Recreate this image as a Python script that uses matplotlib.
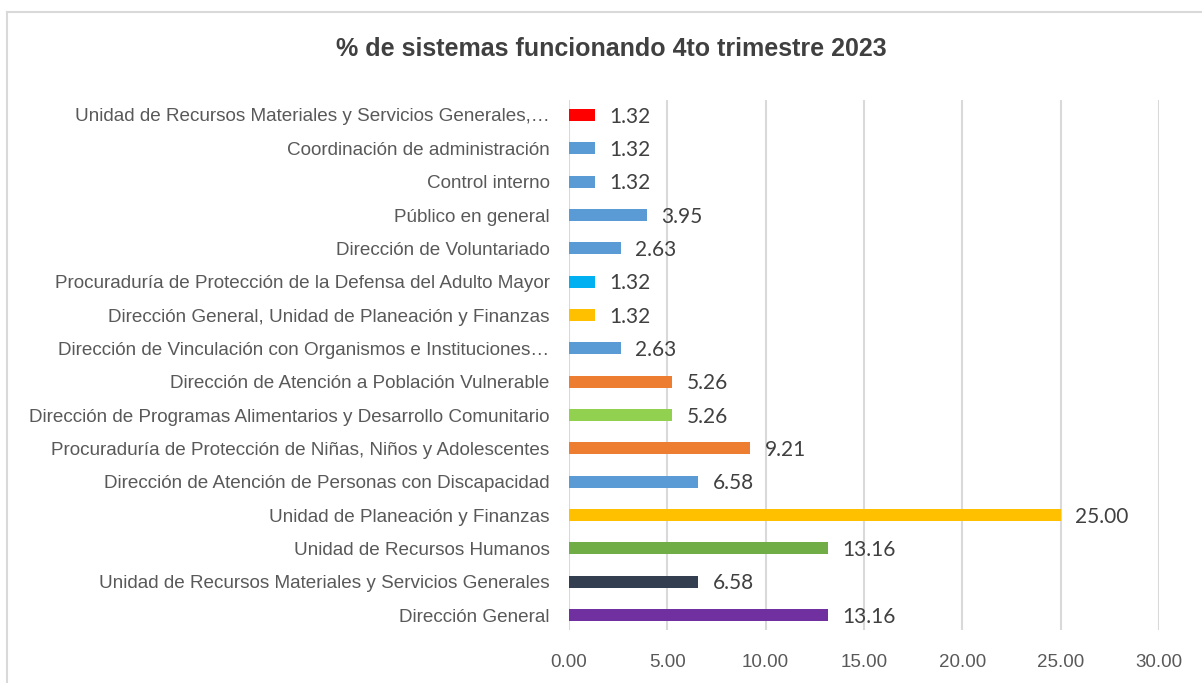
import numpy as np
import matplotlib.pyplot as plt
from matplotlib.lines import Line2D

# data, bottom to top
categorias = [
    'Dirección General',
    'Unidad de Recursos Materiales y Servicios Generales',
    'Unidad de Recursos Humanos',
    'Unidad de Planeación y Finanzas',
    'Dirección de Atención de Personas con Discapacidad',
    'Procuraduría de Protección de Niñas, Niños y Adolescentes',
    'Dirección de Programas Alimentarios y Desarrollo Comunitario',
    'Dirección de Atención a Población Vulnerable',
    'Dirección de Vinculación con Organismos e Instituciones…',
    'Dirección General, Unidad de Planeación y Finanzas',
    'Procuraduría de Protección de la Defensa del Adulto Mayor',
    'Dirección de Voluntariado',
    'Público en general',
    'Control interno',
    'Coordinación de administración',
    'Unidad de Recursos Materiales y Servicios Generales,…',
]
porcentajes = [13.16, 6.58, 13.16, 25.00, 6.58, 9.21, 5.26, 5.26,
               2.63, 1.32, 1.32, 2.63, 3.95, 1.32, 1.32, 1.32]
colores = ['#7030A0', '#333F50', '#70AD47', '#FFC000', '#5B9BD5', '#ED7D31',
           '#92D050', '#ED7D31', '#5B9BD5', '#FFC000', '#00B0F0', '#5B9BD5',
           '#5B9BD5', '#5B9BD5', '#5B9BD5', '#FF0000']
ticks_x = [0, 5, 10, 15, 20, 25, 30]

narrow = ['Liberation Sans Narrow', 'Liberation Sans', 'DejaVu Sans']
gris = '#595959'

fig = plt.figure(figsize=(12.02, 6.83), dpi=100)
ax = fig.add_axes([569 / 1202, 1 - 630 / 683, 590 / 1202, 530 / 683])

y = np.arange(len(categorias))
ax.barh(y, porcentajes, height=0.36, color=colores, zorder=3)

for yi, v in zip(y, porcentajes):
    ax.text(v + 0.75, yi - 0.05, f'{v:.2f}', va='center', ha='left',
            fontsize=15, color='#404040', family=['Lato', 'DejaVu Sans'], zorder=4)

ax.set_xlim(0, 30)
ax.set_ylim(-0.45, len(categorias) - 0.55)
ax.set_xticks(ticks_x)
ax.set_xticklabels([f'{t:.2f}' for t in ticks_x], family=narrow, fontsize=13.5, color=gris)
ax.set_yticks(y)
ax.set_yticklabels(categorias, family=narrow, fontsize=13.6, color=gris)
ax.tick_params(axis='x', length=0, pad=17)
ax.tick_params(axis='y', length=0, pad=14)
ax.grid(axis='x', color='#D9D9D9', linewidth=1.5, zorder=0)
for s in ax.spines.values():
    s.set_visible(False)

fig.text(611 / 1202, 1 - 49 / 683, '% de sistemas funcionando 4to trimestre 2023',
         ha='center', va='center', fontsize=18, fontweight='bold', color='#404040',
         family=narrow)

# chart border (cut at right and bottom)
fig.add_artist(Line2D([7 / 1202, 7 / 1202], [0, 1 - 12 / 683],
                      transform=fig.transFigure, color='#D9D9D9', linewidth=1.5))
fig.add_artist(Line2D([7 / 1202, 1], [1 - 12 / 683, 1 - 12 / 683],
                      transform=fig.transFigure, color='#D9D9D9', linewidth=1.5))

fig.savefig('out.png', dpi=100)
